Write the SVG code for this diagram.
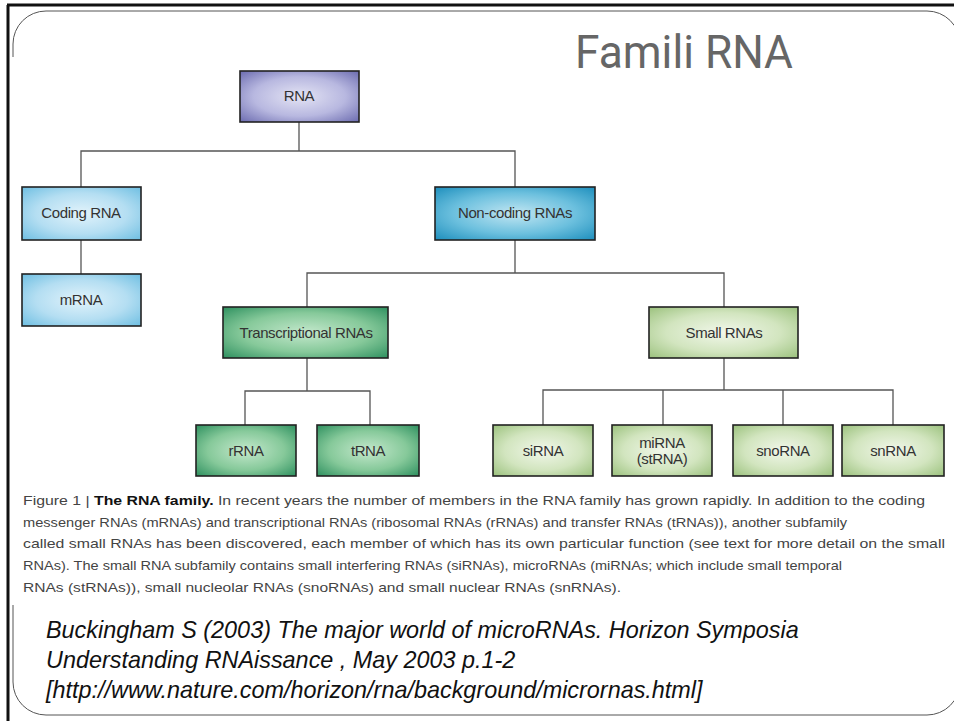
<svg xmlns="http://www.w3.org/2000/svg" width="954" height="721" viewBox="0 0 954 721">
<defs>
<radialGradient id="gPurple" cx="0.5" cy="0.5" r="0.7"><stop offset="0" stop-color="#e4e4f4"/><stop offset="0.55" stop-color="#b8b8e0"/><stop offset="1" stop-color="#6c6cb0"/></radialGradient>
<radialGradient id="gBlue" cx="0.5" cy="0.5" r="0.7"><stop offset="0" stop-color="#e2f3fb"/><stop offset="0.55" stop-color="#b4def2"/><stop offset="1" stop-color="#6fbfe2"/></radialGradient>
<radialGradient id="gCyan" cx="0.5" cy="0.5" r="0.7"><stop offset="0" stop-color="#c2e6f2"/><stop offset="0.55" stop-color="#6cc0de"/><stop offset="1" stop-color="#1e8fbd"/></radialGradient>
<radialGradient id="gGreen" cx="0.5" cy="0.5" r="0.7"><stop offset="0" stop-color="#c4e8cc"/><stop offset="0.55" stop-color="#86c99a"/><stop offset="1" stop-color="#2f9160"/></radialGradient>
<radialGradient id="gLime" cx="0.5" cy="0.5" r="0.7"><stop offset="0" stop-color="#f1f7ea"/><stop offset="0.55" stop-color="#d2e5bf"/><stop offset="1" stop-color="#9cc27e"/></radialGradient>
</defs>
<style>
.box{stroke:#222;stroke-width:1.6}
.lbl{font-family:"Liberation Sans",Arial,sans-serif;font-size:15px;fill:#333;text-anchor:middle;letter-spacing:-0.4px}
.con{fill:none;stroke:#555;stroke-width:1.3}
.cap{font-family:"Liberation Sans",Arial,sans-serif;font-size:13.5px;fill:#444}
.cit{font-family:"Liberation Sans",Arial,sans-serif;font-size:23.4px;font-style:italic;fill:#111}
.frame{fill:none;stroke:#555;stroke-width:1}
</style>
<rect x="0" y="0" width="954" height="721" fill="#fff"/>
<path d="M7,5 H954 M8,5 V721" fill="none" stroke="#111" stroke-width="3"/>
<path class="frame" d="M13,57 V44 A33,33 0 0 1 46,11 H927 A33,33 0 0 1 960,44"/>
<path class="frame" d="M13,605 V682 A33,33 0 0 0 46,715 H927 A33,33 0 0 0 960,682"/>
<text x="575" y="68" font-family="Roboto,'Open Sans',sans-serif" font-size="46" fill="#666" textLength="218" lengthAdjust="spacingAndGlyphs">Famili RNA</text>
<g id="connectors">
<path class="con" d="M299,122 V151 M81,187 V151 H515 V187"/>
<path class="con" d="M81,240 V274"/>
<path class="con" d="M515,240 V273 M307,307 V273 H724 V307"/>
<path class="con" d="M307,358 V391 M245,425 V391 H370 V425"/>
<path class="con" d="M724,358 V390 M543,425 V390 H893 V425 M663,390 V425 M783,390 V425"/>
</g>
<g id="n-rna"><rect class="box" x="240" y="71" width="119" height="51" fill="url(#gPurple)"/><text class="lbl" x="299" y="101">RNA</text></g>
<g id="n-coding"><rect class="box" x="22" y="187" width="119" height="53" fill="url(#gBlue)"/><text class="lbl" x="81" y="218">Coding RNA</text></g>
<g id="n-mrna"><rect class="box" x="22" y="274" width="119" height="52" fill="url(#gBlue)"/><text class="lbl" x="81" y="305">mRNA</text></g>
<g id="n-noncoding"><rect class="box" x="435" y="187" width="160" height="53" fill="url(#gCyan)"/><text class="lbl" x="515" y="218">Non-coding RNAs</text></g>
<g id="n-transcriptional"><rect class="box" x="223" y="307" width="165" height="51" fill="url(#gGreen)"/><text class="lbl" x="306" y="338">Transcriptional RNAs</text></g>
<g id="n-small"><rect class="box" x="649" y="307" width="149" height="51" fill="url(#gLime)"/><text class="lbl" x="724" y="338">Small RNAs</text></g>
<g id="n-rrna"><rect class="box" x="196" y="425" width="100" height="51" fill="url(#gGreen)"/><text class="lbl" x="246" y="456">rRNA</text></g>
<g id="n-trna"><rect class="box" x="317" y="425" width="102" height="51" fill="url(#gGreen)"/><text class="lbl" x="368" y="456">tRNA</text></g>
<g id="n-sirna"><rect class="box" x="493" y="425" width="100" height="51" fill="url(#gLime)"/><text class="lbl" x="543" y="456">siRNA</text></g>
<g id="n-mirna"><rect class="box" x="612" y="425" width="100" height="51" fill="url(#gLime)"/><text class="lbl" x="662" y="448">miRNA</text><text class="lbl" x="662" y="464">(stRNA)</text></g>
<g id="n-snorna"><rect class="box" x="733" y="425" width="100" height="51" fill="url(#gLime)"/><text class="lbl" x="783" y="456">snoRNA</text></g>
<g id="n-snrna"><rect class="box" x="842" y="425" width="102" height="51" fill="url(#gLime)"/><text class="lbl" x="893" y="456">snRNA</text></g>
<text class="cap" x="23" y="505" textLength="902" lengthAdjust="spacingAndGlyphs">Figure 1 | <tspan font-weight="bold" fill="#111">The RNA family.</tspan> In recent years the number of members in the RNA family has grown rapidly. In addition to the coding</text>
<text class="cap" x="23" y="527" textLength="824" lengthAdjust="spacingAndGlyphs">messenger RNAs (mRNAs) and transcriptional RNAs (ribosomal RNAs (rRNAs) and transfer RNAs (tRNAs)), another subfamily</text>
<text class="cap" x="23" y="548" textLength="922" lengthAdjust="spacingAndGlyphs">called small RNAs has been discovered, each member of which has its own particular function (see text for more detail on the small</text>
<text class="cap" x="23" y="570" textLength="819" lengthAdjust="spacingAndGlyphs">RNAs). The small RNA subfamily contains small interfering RNAs (siRNAs), microRNAs (miRNAs; which include small temporal</text>
<text class="cap" x="23" y="592" textLength="598" lengthAdjust="spacingAndGlyphs">RNAs (stRNAs)), small nucleolar RNAs (snoRNAs) and small nuclear RNAs (snRNAs).</text>
<text class="cit" x="46" y="638">Buckingham S (2003) The major world of microRNAs. Horizon Symposia</text>
<text class="cit" x="46" y="668">Understanding RNAissance , May 2003 p.1-2</text>
<text class="cit" x="46" y="698">[http://www.nature.com/horizon/rna/background/micrornas.html]</text>
</svg>
